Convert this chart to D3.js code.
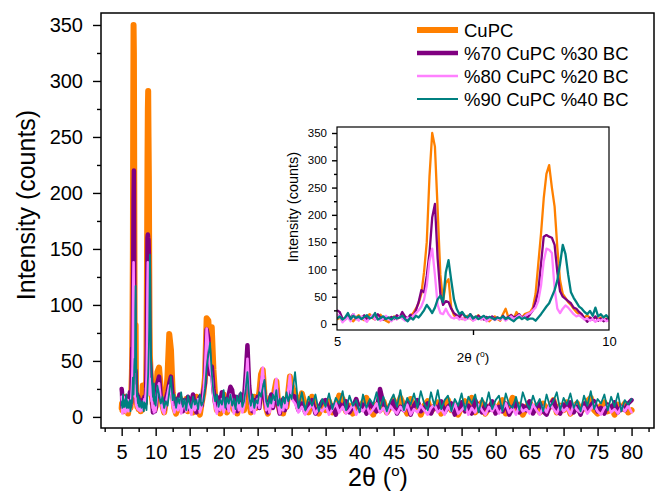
<!DOCTYPE html>
<html>
<head>
<meta charset="utf-8">
<script src="https://cdn.jsdelivr.net/npm/d3@7"></script>
<style>
body{margin:0;background:#fff;}
svg{display:block;font-family:"Liberation Sans",Arial,sans-serif;}
</style>
</head>
<body>
<svg width="667" height="494"></svg>
<script>
// 2-theta scan positions (deg)
var angleFine = [5,5.05,5.1,5.15,5.2,5.25,5.3,5.35,5.4,5.45,5.5,5.55,5.6,5.65,5.7,5.75,5.8,5.85,5.9,5.95,6,6.05,6.1,6.15,6.2,6.25,6.3,6.35,6.4,6.45,6.5,6.55,6.6,6.65,6.7,6.75,6.8,6.85,6.9,6.95,7,7.05,7.1,7.15,7.2,7.25,7.3,7.35,7.4,7.45,7.5,7.55,7.6,7.65,7.7,7.75,7.8,7.85,7.9,7.95,8,8.05,8.1,8.15,8.2,8.25,8.3,8.35,8.4,8.45,8.5,8.55,8.6,8.65,8.7,8.75,8.8,8.85,8.9,8.95,9,9.05,9.1,9.15,9.2,9.25,9.3,9.35,9.4,9.45,9.5,9.55,9.6,9.65,9.7,9.75,9.8,9.85,9.9,9.95,10];
var angleMid = [10.25,10.5,10.75,11,11.25,11.5,11.75,12,12.25,12.5,12.75,13,13.25,13.5,13.75,14,14.25,14.5,14.75,15,15.25,15.5,15.75,16,16.25,16.5,16.75,17,17.25,17.5,17.75,18,18.25,18.5,18.75,19,19.25,19.5,19.75,20,20.25,20.5,20.75,21,21.25,21.5,21.75,22,22.25,22.5,22.75,23,23.25,23.5,23.75,24,24.25,24.5,24.75,25,25.25,25.5,25.75,26,26.25,26.5,26.75,27,27.25,27.5,27.75,28,28.25,28.5,28.75,29,29.25,29.5,29.75,30];
var angleWide = [30.5,31,31.5,32,32.5,33,33.5,34,34.5,35,35.5,36,36.5,37,37.5,38,38.5,39,39.5,40,40.5,41,41.5,42,42.5,43,43.5,44,44.5,45,45.5,46,46.5,47,47.5,48,48.5,49,49.5,50,50.5,51,51.5,52,52.5,53,53.5,54,54.5,55,55.5,56,56.5,57,57.5,58,58.5,59,59.5,60,60.5,61,61.5,62,62.5,63,63.5,64,64.5,65,65.5,66,66.5,67,67.5,68,68.5,69,69.5,70,70.5,71,71.5,72,72.5,73,73.5,74,74.5,75,75.5,76,76.5,77,77.5,78,78.5,79,79.5,80];

// CuPC
var cupcFine = [8,12,6,10,15,9,5,12,16,10, 7,13,18,11,8,14,17,9,6,3, 10,14,9,12,16,11,8,14,20,28, 38,55,95,150,270,350,325,210,90,42, 75,82,30,16,12,14,9,11,15,10, 7,12,16,9,11,8,5,10,14,9, 6,18,28,12,17,10,22,14,12,18, 20,22,30,55,110,165,230,275,291,250, 215,140,80,55,48,40,35,28,22,18, 15,12,16,10,8,13,9,12,7,10, 9];
var cupcMid = [40,44,26,10,4,14,38,74,60,22, 8,3,12,18,6,14,9,16,5,11, 15,4,10,18,7,2,12,20,35,88, 86,62,80,42,18,6,12,3,14,20, 9,4,15,10,18,6,12,3,14,9, 16,6,20,30,15,4,10,18,8,14, 22,38,42,20,8,3,12,18,10,24, 32,14,5,12,3,15,9,22,36,28];
var cupcWide = [20,8,21,10,4,18,9,3,12,6, 14,4,9,19,16,5,10,3,12,7, 13,17,8,2,11,6,14,4,9,15, 6,17,10,3,16,8,12,2,10,14, 5,9,13,3,8,15,6,11,2,9, 14,7,17,4,10,13,3,8,12,5, 10,15,3,9,17,6,11,2,8,13, 5,10,4,12,7,9,15,4,10,6, 13,3,9,12,5,8,14,17,6,3, 10,13,5,9,2,11,7,12,4,6];

// %70 CuPC %30 BC
var bc30Fine = [25,22,10,8,14,12,18,9,13,11, 16,8,12,15,10,18,12,8,14,10, 13,9,16,12,22,14,10,17,13,25, 40,62,58,88,130,195,220,120,55,35, 42,40,28,20,16,12,20,14,10,18, 12,9,15,11,8,13,10,14,9,12, 8,15,10,13,16,12,14,18,11,15, 12,18,25,40,60,110,160,163,160,158, 145,95,60,50,46,42,38,30,28,22, 18,10,4,12,8,14,6,10,5,9, 8];
var bc30Mid = [30,36,18,12,6,16,22,30,36,18, 10,16,8,20,12,5,15,10,18,7, 13,20,9,4,14,18,10,22,30,78, 70,38,45,25,12,18,6,14,22,10, 16,8,20,27,24,12,18,5,12,20, 10,16,38,64,28,12,5,15,10,18, 8,26,36,18,10,4,14,20,8,16, 25,12,3,10,16,6,12,18,28,20];
var bc30Wide = [18,6,12,4,10,15,3,8,14,15, 5,10,2,12,8,14,4,9,16,6, 11,3,13,8,5,25,12,4,10,14, 3,9,6,13,2,10,15,5,8,12, 3,10,6,14,4,9,12,2,7,13, 5,10,3,15,8,4,11,6,14,3, 9,5,12,2,8,13,4,10,6,14, 3,9,12,5,2,10,15,6,3,11, 8,13,4,9,2,12,6,10,14,5, 8,3,11,7,13,4,9,6,12,15];

// %80 CuPC %20 BC
var bc20Fine = [18,15,3,8,12,5,18,10,6,14, 9,4,11,16,8,12,6,10,15,9, 5,12,8,14,10,6,12,9,15,20, 25,32,45,70,115,138,90,35,20,18, 28,18,12,10,13,8,11,7,10,12, 6,9,11,8,12,5,9,11,7,10, 8,12,6,10,14,9,12,16,10,14, 18,20,25,30,42,70,115,138,136,130, 65,28,20,28,34,30,24,18,14,16, 12,8,10,6,9,4,8,6,10,5, 7];
var bc20Mid = [24,30,15,6,3,12,20,28,24,10, 4,12,6,16,3,10,14,5,12,8, 2,14,6,10,16,4,9,18,40,79, 62,45,36,18,8,3,12,6,16,4, 10,14,5,20,12,3,9,14,6,12, 4,10,30,52,20,6,12,3,10,16, 8,30,44,22,6,12,4,14,9,22, 34,12,3,10,6,14,8,24,37,16];
var bc20Wide = [12,4,9,2,7,11,3,8,5,10, 2,7,12,4,9,3,6,11,2,8, 5,10,3,7,12,4,8,2,10,6, 3,9,5,11,2,7,4,10,6,2, 8,11,4,7,2,9,5,12,3,6, 10,2,8,4,11,6,2,9,5,10, 3,7,12,4,8,2,10,5,7,3, 11,6,2,9,4,12,7,3,10,5, 8,2,11,6,4,9,3,7,11,5, 2,8,10,4,7,3,9,5,10,4];

// %90 CuPC %40 BC
var bc40Fine = [10,14,8,12,20,9,15,11,14,9, 13,16,10,12,20,8,11,14,9,12, 8,13,10,12,15,9,5,12,8,15, 12,18,25,35,28,20,30,45,52,40, 95,117,80,45,28,18,22,15,12,18, 10,14,9,12,15,10,13,11,8,12, 10,14,9,12,8,5,10,13,9,12, 8,10,10,6,12,18,25,32,38,50, 62,80,110,145,128,90,58,48,40,32, 28,22,18,24,15,30,14,18,12,16, 10];
var bc40Mid = [28,20,12,18,8,14,10,22,36,15, 20,8,17,12,22,9,16,6,19,12, 8,18,11,15,7,20,10,14,25,45, 55,66,40,22,14,20,9,15,11,24, 8,17,12,20,10,16,7,19,12,22, 9,14,25,40,18,10,20,8,15,12, 22,18,26,33,14,9,18,12,20,15, 24,10,16,8,18,12,22,14,20,16];
var bc40Wide = [40,8,22,6,18,10,20,5,16,9, 21,7,17,12,23,6,19,10,15,4, 20,8,16,11,22,7,18,5,14,20, 9,24,6,17,11,21,8,23,12,6, 22,10,24,7,15,19,5,16,10,21, 6,18,12,20,4,17,9,22,7,15, 19,5,21,11,8,18,6,22,13,7, 19,10,16,5,20,9,14,22,6,17, 11,21,8,15,5,19,10,23,7,16, 12,20,6,18,9,21,5,15,11,16];

var seriesNames = ["CuPC", "%70 CuPC %30 BC", "%80 CuPC %20 BC", "%90 CuPC %40 BC"];
var xMajorTicks = [5,10,15,20,25,30,35,40,45,50,55,60,65,70,75,80];
var xMinorTicks = [2.5,7.5,12.5,17.5,22.5,27.5,32.5,37.5,42.5,47.5,52.5,57.5,62.5,67.5,72.5,77.5,82.5];
var yMajorTicks = [0,50,100,150,200,250,300,350];
var yMinorTicks = [25,75,125,175,225,275,325];
var insetXTicks = [5,10];
var insetXMinor = [7.5];

var twoTheta = angleFine.concat(angleMid, angleWide);
var counts = [
  cupcFine.concat(cupcMid, cupcWide),
  bc30Fine.concat(bc30Mid, bc30Wide),
  bc20Fine.concat(bc20Mid, bc20Wide),
  bc40Fine.concat(bc40Mid, bc40Wide)
];
var colors = ["#ff8000", "#800080", "#ff80ff", "#008080"];
var widths = [6, 4.5, 2.6, 1.8];

var svg = d3.select("svg");

// ---- main plot ----
var plotL = 101, plotR = 654, plotT = 13, plotB = 428;
var x = d3.scaleLinear().domain([1.96, 83.3]).range([plotL, plotR]);
var y = d3.scaleLinear().domain([-9.9, 360.7]).range([plotB, plotT]);

function pts(k) {
  return twoTheta.map(function(t, i) { return [t, counts[k][i]]; })
    .filter(function(d) { return d[1] != null; });
}

var line = d3.line().x(function(d) { return x(d[0]); }).y(function(d) { return y(d[1]); });

counts.forEach(function(c, k) {
  svg.append("path").attr("d", line(pts(k)))
    .attr("fill", "none").attr("stroke", colors[k]).attr("stroke-width", widths[k])
    .attr("stroke-linejoin", "round").attr("stroke-linecap", "round");
});

function styleAxis(g, size) {
  g.select(".domain").remove();
  g.selectAll("line").attr("stroke", "#000").attr("stroke-width", 1.4);
  g.selectAll("text").attr("fill", "#000").style("font-size", size + "px")
    .style("font-family", '"Liberation Sans", Arial, sans-serif');
}

svg.append("g").attr("transform", "translate(0," + plotB + ")")
  .call(d3.axisBottom(x).tickValues(xMinorTicks).tickSize(4).tickFormat(""))
  .call(styleAxis, 20);
svg.append("g").attr("transform", "translate(0," + plotB + ")")
  .call(d3.axisBottom(x).tickValues(xMajorTicks).tickSize(8).tickPadding(9).tickFormat(d3.format("d")))
  .call(styleAxis, 20);
svg.append("g").attr("transform", "translate(" + plotL + ",0)")
  .call(d3.axisLeft(y).tickValues(yMinorTicks).tickSize(4).tickFormat(""))
  .call(styleAxis, 20);
svg.append("g").attr("transform", "translate(" + plotL + ",0)")
  .call(d3.axisLeft(y).tickValues(yMajorTicks).tickSize(8).tickPadding(10).tickFormat(d3.format("d")))
  .call(styleAxis, 20);

svg.append("rect").attr("x", plotL).attr("y", plotT)
  .attr("width", plotR - plotL).attr("height", plotB - plotT)
  .attr("fill", "none").attr("stroke", "#000").attr("stroke-width", 1.5);

svg.append("text").attr("transform", "translate(35,205) rotate(-90)")
  .attr("text-anchor", "middle").style("font-size", "25px").text("Intensity (counts)");

var xl = svg.append("text").attr("x", 378).attr("y", 486)
  .attr("text-anchor", "middle").style("font-size", "25px");
xl.append("tspan").text("2\u03b8 (");
xl.append("tspan").attr("dy", -10).style("font-size", "15px").text("o");
xl.append("tspan").attr("dy", 10).text(")");

// ---- legend ----
var legend = svg.append("g");
seriesNames.forEach(function(name, k) {
  var ly = 30 + k * 23;
  legend.append("line").attr("x1", 417).attr("x2", 458).attr("y1", ly).attr("y2", ly)
    .attr("stroke", colors[k]).attr("stroke-width", widths[k]);
  legend.append("text").attr("x", 464).attr("y", ly + 6.6)
    .style("font-size", "18.5px").text(name);
});

// ---- inset ----
var iL = 337, iR = 609, iT = 127, iB = 330;
var xi = d3.scaleLinear().domain([5, 10]).range([iL, iR]);
var yi = d3.scaleLinear().domain([-11, 361]).range([iB, iT]);

svg.append("rect").attr("x", iL).attr("y", iT).attr("width", iR - iL).attr("height", iB - iT)
  .attr("fill", "#fff");
svg.append("clipPath").attr("id", "insetClip").append("rect")
  .attr("x", iL).attr("y", iT).attr("width", iR - iL).attr("height", iB - iT);

var lineI = d3.line().x(function(d) { return xi(d[0]); }).y(function(d) { return yi(d[1]); });
var ig = svg.append("g").attr("clip-path", "url(#insetClip)");
counts.forEach(function(c, k) {
  var p = pts(k).filter(function(d) { return d[0] <= 10.25; });
  ig.append("path").attr("d", lineI(p))
    .attr("fill", "none").attr("stroke", colors[k]).attr("stroke-width", 2.3)
    .attr("stroke-linejoin", "round");
});

svg.append("g").attr("transform", "translate(0," + iB + ")")
  .call(d3.axisBottom(xi).tickValues(insetXMinor).tickSize(5).tickFormat(""))
  .call(styleAxis, 13);
svg.append("g").attr("transform", "translate(0," + iB + ")")
  .call(d3.axisBottom(xi).tickValues(insetXTicks).tickSize(0).tickPadding(7).tickFormat(d3.format("d")))
  .call(styleAxis, 13);
svg.append("g").attr("transform", "translate(" + iL + ",0)")
  .call(d3.axisLeft(yi).tickValues(yMinorTicks).tickSize(3).tickFormat(""))
  .call(styleAxis, 11.5);
svg.append("g").attr("transform", "translate(" + iL + ",0)")
  .call(d3.axisLeft(yi).tickValues(yMajorTicks).tickSize(5).tickPadding(5).tickFormat(d3.format("d")))
  .call(styleAxis, 11.5);

svg.append("rect").attr("x", iL).attr("y", iT).attr("width", iR - iL).attr("height", iB - iT)
  .attr("fill", "none").attr("stroke", "#000").attr("stroke-width", 1.2);

svg.append("text").attr("transform", "translate(298,207) rotate(-90)")
  .attr("text-anchor", "middle").style("font-size", "14.5px").text("Intensity (counts)");

var xil = svg.append("text").attr("x", 473).attr("y", 362)
  .attr("text-anchor", "middle").style("font-size", "13.5px");
xil.append("tspan").text("2\u03b8 (");
xil.append("tspan").attr("dy", -5).style("font-size", "8.5px").text("o");
xil.append("tspan").attr("dy", 5).text(")");
</script>
</body>
</html>
